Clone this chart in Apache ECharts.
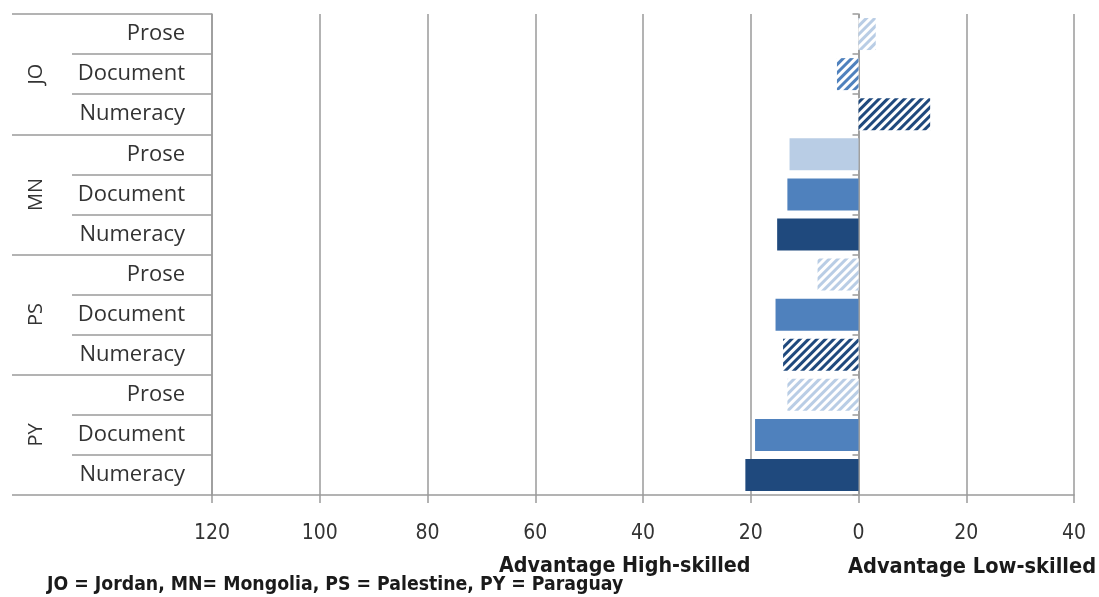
<!DOCTYPE html>
<html>
<head>
<meta charset="utf-8">
<script src="https://cdn.jsdelivr.net/npm/echarts@6/dist/echarts.min.js"></script>
<style>
  html, body { margin: 0; padding: 0; background: #fff; }
  #chart { width: 1099px; height: 597px; }
</style>
</head>
<body>
<div id="chart"></div>
<script>
// Skill gap (low-skilled minus high-skilled), by country and literacy domain
const countries = ['JO', 'MN', 'PS', 'PY'];
const skills = ['Prose', 'Document', 'Numeracy'];
const proseValues    = [3.2, -12.8, -7.6, -13.2];
const documentValues = [-4.0, -13.2, -15.4, -19.2];
const numeracyValues = [13.3, -15.1, -14.0, -21.0];
// hatched bars (true = hatched) per skill, indexed by country
const proseHatched    = [true, false, true, true];
const documentHatched = [true, false, false, false];
const numeracyHatched = [true, false, true, false];
const xTicks = [-120, -100, -80, -60, -40, -20, 0, 20, 40];

const skillColors = ['#b9cde5', '#4f81bd', '#1f497d'];
const valuesBySkill = [proseValues, documentValues, numeracyValues];
const hatchBySkill = [proseHatched, documentHatched, numeracyHatched];

const rowKeys = [];
const barData = [];
countries.forEach(function (c, ci) {
  skills.forEach(function (s, si) {
    rowKeys.push(c + '|' + s);
    const color = skillColors[si];
    const hatched = hatchBySkill[si][ci];
    const item = { value: valuesBySkill[si][ci], itemStyle: { color: color } };
    if (hatched) {
      item.itemStyle = {
        color: '#ffffff',
        decal: {
          symbol: 'rect',
          symbolSize: 1,
          color: color,
          backgroundColor: '#ffffff',
          dashArrayX: [1, 0],
          dashArrayY: [2.4, 2.4],
          rotation: -Math.PI / 4
        }
      };
    }
    barData.push(item);
  });
});

const gridColor = '#9a9a9a';
const labelFont = "'Liberation Sans Narrow', 'DejaVu Sans Condensed', sans-serif";
const catFont = "'Open Sans', sans-serif";

const chart = echarts.init(document.getElementById('chart'), null, { renderer: 'canvas' });
chart.setOption({
  animation: false,
  backgroundColor: '#ffffff',
  grid: { left: 212, right: 25, top: 14, bottom: 102, containLabel: false },
  title: [
    { text: 'Advantage High-skilled', left: 499, top: 556, padding: 0,
      textStyle: { fontFamily: labelFont, fontWeight: 'bold', fontSize: 21.3, color: '#1a1a1a' } },
    { text: 'Advantage Low-skilled', left: 848, top: 556, padding: 0,
      textStyle: { fontFamily: labelFont, fontWeight: 'bold', fontSize: 21.6, color: '#1a1a1a' } },
    { text: 'JO = Jordan, MN= Mongolia, PS = Palestine, PY = Paraguay', left: 47, top: 575, padding: 0,
      textStyle: { fontFamily: labelFont, fontWeight: 'bold', fontSize: 19.3, color: '#1a1a1a' } }
  ],
  xAxis: {
    type: 'value',
    min: xTicks[0],
    max: xTicks[xTicks.length - 1],
    interval: 20,
    axisLine: { show: true, onZero: false, lineStyle: { color: gridColor, width: 1.5 } },
    axisTick: { show: true, length: 8, lineStyle: { color: gridColor, width: 1.5 } },
    splitLine: { show: true, lineStyle: { color: gridColor, width: 1.5 } },
    axisLabel: {
      margin: 28,
      fontFamily: labelFont,
      fontSize: 21,
      color: '#333333',
      formatter: function (v) { return String(Math.abs(v)); }
    }
  },
  yAxis: [
    {
      // skill labels in the left box
      type: 'category',
      data: rowKeys,
      inverse: true,
      position: 'left',
      axisLine: { show: true, onZero: false, lineStyle: { color: gridColor, width: 1.5 } },
      axisTick: { show: true, length: 140, interval: 0, lineStyle: { color: gridColor, width: 1.5 } },
      axisLabel: {
        margin: 27,
        interval: 0,
        padding: [4, 0, 0, 0],
        fontFamily: catFont,
        fontSize: 22,
        color: '#333333',
        formatter: function (v) { return v.split('|')[1]; }
      }
    },
    {
      // country group labels
      type: 'category',
      data: countries,
      inverse: true,
      position: 'left',
      axisLine: { show: false, onZero: false },
      axisTick: { show: true, length: 200, interval: 0, lineStyle: { color: gridColor, width: 1.5 } },
      axisLabel: {
        margin: 166,
        rotate: 90,
        interval: 0,
        fontFamily: catFont,
        fontSize: 20,
        color: '#333333'
      }
    },
    {
      // zero line with small ticks
      type: 'category',
      data: rowKeys,
      inverse: true,
      position: 'left',
      axisLine: { show: true, onZero: true, lineStyle: { color: gridColor, width: 1.5 } },
      axisTick: { show: true, length: 6, interval: 0, lineStyle: { color: gridColor, width: 1.5 } },
      axisLabel: { show: false }
    }
  ],
  series: [
    {
      type: 'bar',
      yAxisIndex: 0,
      data: barData,
      barWidth: 32
    }
  ]
});
</script>
</body>
</html>
